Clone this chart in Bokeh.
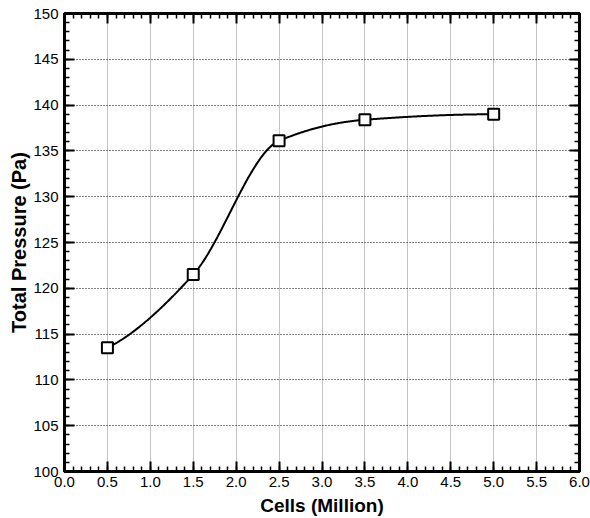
import numpy as np
from bokeh.plotting import figure
from bokeh.models import LinearAxis, FixedTicker, PrintfTickFormatter, Range1d
from bokeh.embed import file_html
from bokeh.resources import INLINE

# ---- data ----
cells = [0.5, 1.5, 2.5, 3.5, 5.0]
pressure = [113.5, 121.5, 136.1, 138.4, 139.0]
x_ticks = [0.0, 0.5, 1.0, 1.5, 2.0, 2.5, 3.0, 3.5, 4.0, 4.5, 5.0, 5.5, 6.0]
x_minor = [round(0.1 * i, 1) for i in range(61)]
y_ticks = [100, 105, 110, 115, 120, 125, 130, 135, 140, 145, 150]
y_minor = list(range(100, 151))
x_title = "Cells (Million)"
y_title = "Total Pressure (Pa)"


def pchip_curve(x, y, n=400):
    """Monotone cubic (PCHIP) curve through the points, used only to draw the smooth line."""
    x = np.asarray(x, float)
    y = np.asarray(y, float)
    h = np.diff(x)
    delta = np.diff(y) / h
    m = len(x)
    d = np.zeros(m)
    for k in range(1, m - 1):
        if delta[k - 1] * delta[k] <= 0:
            d[k] = 0.0
        else:
            w1 = 2 * h[k] + h[k - 1]
            w2 = h[k] + 2 * h[k - 1]
            d[k] = (w1 + w2) / (w1 / delta[k - 1] + w2 / delta[k])

    def end_slope(h0, h1, d0, d1):
        s = ((2 * h0 + h1) * d0 - h0 * d1) / (h0 + h1)
        if np.sign(s) != np.sign(d0):
            s = 0.0
        elif np.sign(d0) != np.sign(d1) and abs(s) > abs(3 * d0):
            s = 3 * d0
        return s

    d[0] = end_slope(h[0], h[1], delta[0], delta[1])
    d[-1] = end_slope(h[-1], h[-2], delta[-1], delta[-2])
    xs = np.linspace(x[0], x[-1], n)
    ys = np.empty_like(xs)
    for j, xv in enumerate(xs):
        i = min(np.searchsorted(x, xv, side="right") - 1, m - 2)
        t = (xv - x[i]) / h[i]
        h00 = 2 * t ** 3 - 3 * t ** 2 + 1
        h10 = t ** 3 - 2 * t ** 2 + t
        h01 = -2 * t ** 3 + 3 * t ** 2
        h11 = t ** 3 - t ** 2
        ys[j] = h00 * y[i] + h10 * h[i] * d[i] + h01 * y[i + 1] + h11 * h[i] * d[i + 1]
    return xs, ys


FONT = "Liberation Sans"

p = figure(width=590, height=518, output_backend="svg", toolbar_location=None,
           x_range=Range1d(0, 6), y_range=Range1d(100, 150),
           x_axis_label=x_title, y_axis_label=y_title,
           min_border_left=64, min_border_right=11, min_border_top=13, min_border_bottom=47)
p.background_fill_color = "white"
p.border_fill_color = "white"
p.outline_line_color = "black"
p.outline_line_width = 3

# extra axes on right / top (ticks only)
p.add_layout(LinearAxis(), "right")
p.add_layout(LinearAxis(), "above")

for ax in p.xaxis:
    ax.ticker = FixedTicker(ticks=x_ticks, minor_ticks=x_minor)
    ax.formatter = PrintfTickFormatter(format="%.1f")
for ax in p.yaxis:
    ax.ticker = FixedTicker(ticks=y_ticks, minor_ticks=y_minor)
    ax.formatter = PrintfTickFormatter(format="%d")

for ax in p.axis:
    ax.axis_line_width = 3
    ax.axis_line_color = "black"
    ax.major_tick_in = 10
    ax.major_tick_out = 0
    ax.minor_tick_in = 5
    ax.minor_tick_out = 0
    ax.major_tick_line_width = 2
    ax.minor_tick_line_width = 1.5
    ax.major_tick_line_color = "black"
    ax.minor_tick_line_color = "black"
    ax.major_label_text_font = FONT
    ax.major_label_text_font_size = "15px"
    ax.major_label_text_color = "black"
    ax.axis_label_text_font = FONT
    ax.axis_label_text_font_size = "19px"
    ax.axis_label_text_font_style = "bold"
    ax.axis_label_text_color = "black"

p.yaxis[0].axis_label_text_font_size = "20px"
p.xaxis[0].major_label_standoff = 5
p.yaxis[0].major_label_standoff = 6
p.xaxis[0].axis_label_standoff = 2
p.yaxis[0].axis_label_standoff = 0

# hide labels on top / right axes (empty strings)
for ax in (p.right[0], p.above[0]):
    ax.formatter = PrintfTickFormatter(format="")
    ax.major_label_text_font_size = "1px"
    ax.major_label_standoff = 0
    ax.axis_label = None

p.xgrid.ticker = FixedTicker(ticks=x_ticks)
p.ygrid.ticker = FixedTicker(ticks=y_ticks)
p.xgrid.grid_line_color = "#888888"
p.xgrid.grid_line_dash = "1 1"
p.xgrid.grid_line_width = 1
p.ygrid.grid_line_color = "black"
p.ygrid.grid_line_dash = "1 2"
p.ygrid.grid_line_width = 1

sx, sy = pchip_curve(cells, pressure)
p.line(sx, sy, line_color="black", line_width=2)
p.scatter(cells, pressure, marker="square", size=11, fill_color="white",
          line_color="black", line_width=2)

open("out.html", "w").write(file_html(p, INLINE))
